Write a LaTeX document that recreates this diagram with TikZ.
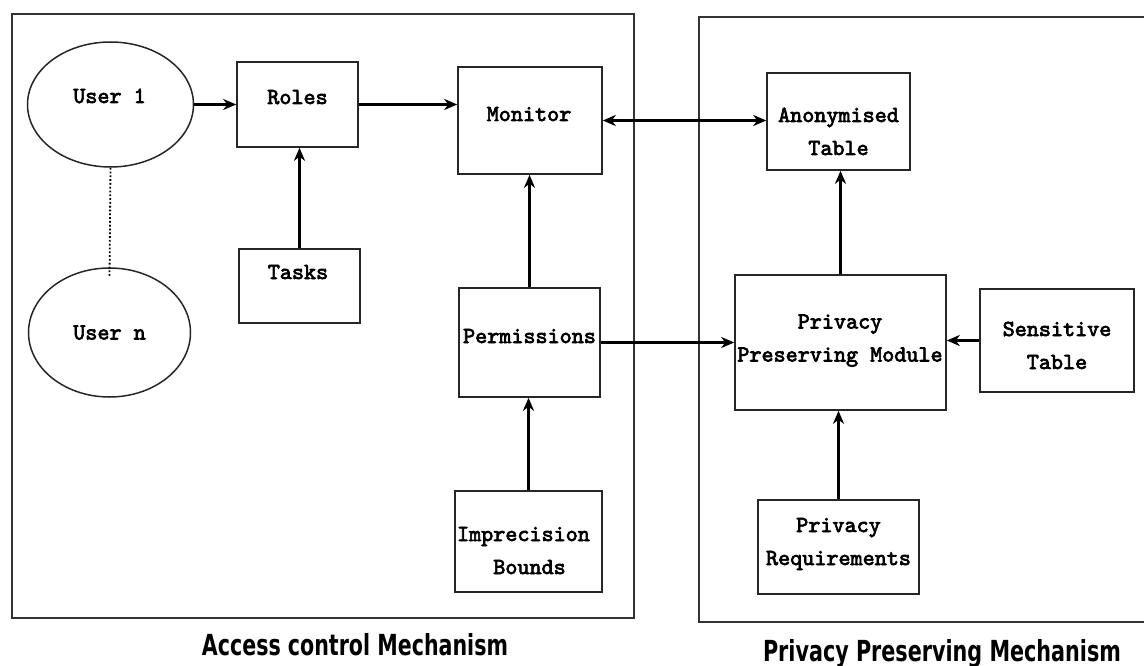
\documentclass[tikz,border=0pt]{standalone}
\usepackage{fontspec}
\usepackage{graphicx}
\newfontfamily\labfont{DejaVu Sans}
\newfontfamily\cmono{lmmono10-regular}[Extension=.otf, FakeBold=3]
\usetikzlibrary{arrows.meta,shapes.geometric}
\tikzset{
  box/.style={draw=black!85, line width=1.6pt, fill=white, inner sep=0pt},
  usr/.style={draw=black!85, line width=1.5pt, ellipse, inner sep=0pt},
  txt/.style={font=\fontsize{23}{33}\selectfont\cmono, align=center, inner sep=0pt, text height=14pt, text depth=0pt},
  arr/.style={line width=2.2pt, -{Stealth[length=13pt,width=11pt,inset=4pt]}},
  darr/.style={line width=2.2pt, {Stealth[length=13pt,width=11pt,inset=4pt]}-{Stealth[length=13pt,width=11pt,inset=4pt]}},
  cont/.style={draw=black!80, line width=1.9pt},
  lab/.style={font=\labfont\bfseries\fontsize{29}{29}\selectfont, inner sep=0pt, anchor=base}
}
\begin{document}
\begin{tikzpicture}[x=1pt,y=-1pt]
\useasboundingbox (0,0) rectangle (1144,666);
% containers
\node[cont, draw, minimum width=622pt, minimum height=604pt, inner sep=0pt] (acm) at (323,316) {};
\coordinate (pa) at (1146,17);
\coordinate (pb) at (699,17);
\coordinate (pc) at (699,622);
\coordinate (pd) at (1146,622);
\draw[cont] (pa) -- (pb) -- (pc) -- (pd);
% users
\node[usr, minimum width=166pt, minimum height=125pt] (user1) at (110.5,104.5) {};
\node[txt] (user1t) at (109.5,96) {User 1};
\node[usr, minimum width=162pt, minimum height=129pt] (usern) at (109.5,332.5) {};
\node[txt] (usernt) at (109.5,332.5) {User n};
% boxes
\node[box, minimum width=121pt, minimum height=85pt] (roles) at (297.5,104.5) {};
\node[txt] (rolest) at (297.5,97) {Roles};
\node[box, minimum width=144pt, minimum height=107pt] (monitor) at (530,120.5) {};
\node[txt] (monitort) at (529,114) {Monitor};
\node[box, minimum width=121pt, minimum height=74pt] (tasks) at (299.5,286) {};
\node[txt] (taskst) at (298,272) {Tasks};
\node[box, minimum width=141pt, minimum height=109pt] (perm) at (529.5,342.5) {};
\node[txt] (permt) at (529.5,336) {Permissions};
\node[box, minimum width=147pt, minimum height=101pt] (impr) at (528.5,541.5) {};
\node[txt] (imprt) at (529.5,567) {Imprecision\hphantom{x}\\Bounds};
\node[box, minimum width=143pt, minimum height=97pt] (anon) at (838.5,121.5) {};
\node[txt] (anont) at (838.5,148) {Anonymised\\Table};
\node[box, minimum width=211pt, minimum height=135pt] (ppm) at (840.5,342.5) {};
\node[txt] (ppmt) at (840,354.5) {Privacy\\Preserving Module};
\node[box, minimum width=154pt, minimum height=103pt] (sens) at (1057,340.5) {};
\node[txt] (senst) at (1057,362) {Sensitive\\Table};
\node[box, minimum width=161pt, minimum height=94pt] (preq) at (838.5,547) {};
\node[txt] (preqt) at (838.5,558) {Privacy\\Requirements};
% connectors
\draw[line width=1.8pt, dotted] (user1.south) -- ([yshift=-10pt]usern.north);
\draw[arr] (user1.east) -- (roles.west);
\draw[arr] (roles.east) -- (roles.east -| monitor.west);
\draw[darr] (monitor.east) -- (monitor.east -| anon.west);
\draw[arr] (tasks.north) -- (tasks.north |- roles.south);
\draw[arr] (perm.north) -- (perm.north |- monitor.south);
\draw[arr] (impr.north) -- (impr.north |- perm.south);
\draw[arr] (perm.east) -- (perm.east -| ppm.west);
\draw[arr] (ppm.north) -- (ppm.north |- anon.south);
\draw[arr] (sens.west) -- (sens.west -| ppm.east);
\draw[arr] (preq.north) -- (preq.north |- ppm.south);
% labels
\node[lab] (acml) at (355,655) {\resizebox{306pt}{\height}{Access control Mechanism}};
\node[lab] (ppml) at (942,661) {\resizebox{358pt}{\height}{Privacy Preserving Mechanism}};
\end{tikzpicture}
\end{document}
